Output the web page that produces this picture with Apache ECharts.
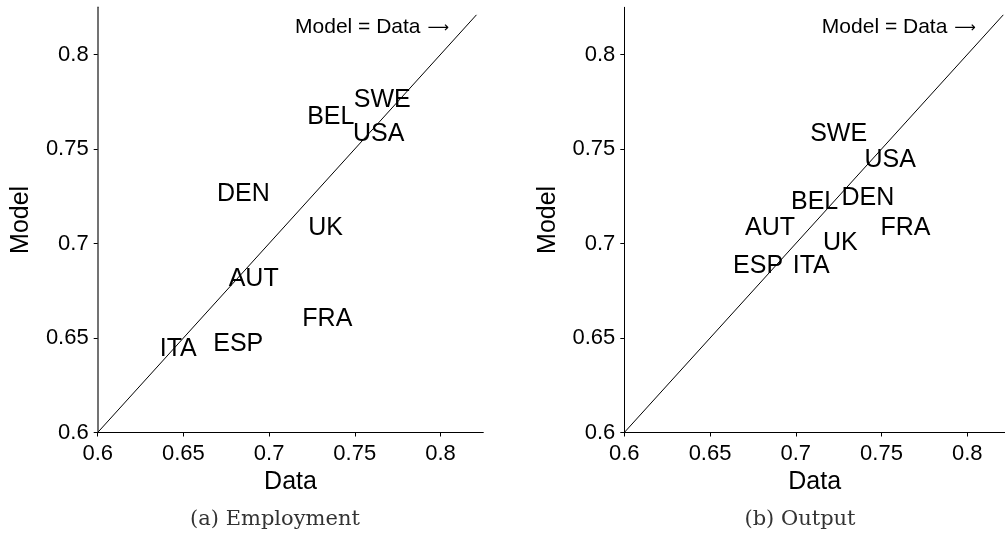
<!DOCTYPE html>
<html>
<head>
<meta charset="utf-8">
<script src="https://cdn.jsdelivr.net/npm/echarts@6/dist/echarts.min.js"></script>
<style>
  html, body { margin: 0; padding: 0; background: #fff; }
  #chart { width: 1005px; height: 535px; }
</style>
</head>
<body>
<div id="chart"></div>
<script>
// Country labels and their (data, model) shares for each panel
const countries = ['SWE', 'BEL', 'USA', 'DEN', 'UK', 'AUT', 'FRA', 'ESP', 'ITA'];
const employmentData  = [0.766, 0.736, 0.764, 0.685, 0.733, 0.691, 0.734, 0.682, 0.647];
const employmentModel = [0.776, 0.767, 0.758, 0.726, 0.708, 0.681, 0.660, 0.647, 0.644];
const outputData  = [0.725, 0.711, 0.755, 0.742, 0.726, 0.685, 0.764, 0.678, 0.709];
const outputModel = [0.758, 0.722, 0.744, 0.724, 0.700, 0.708, 0.708, 0.688, 0.688];

// 45-degree reference line and its note
const diagonal = [[0.6, 0.6], [0.821, 0.821]];
const diagonalNote = 'Model = Data';
const notePos = [0.805, 0.8145];

// Axis ticks
const tickValues = [0.6, 0.65, 0.7, 0.75, 0.8];
const tickLabels = ['0.6', '0.65', '0.7', '0.75', '0.8'];
const captions = ['(a) Employment', '(b) Output'];

const SANS = 'Liberation Sans, Arial, Helvetica, sans-serif';
const AXMIN = 0.6, YMAX = 0.825;

function fmt(v) {
  const i = tickValues.findIndex(t => Math.abs(t - v) < 1e-9);
  return i >= 0 ? tickLabels[i] : '';
}

function xAxis(gridIndex, max) {
  return {
    type: 'value', gridIndex, min: AXMIN, max,
    name: 'Data', nameLocation: 'middle', nameGap: 29,
    nameTextStyle: { fontFamily: SANS, fontSize: 25, color: '#000' },
    axisLine: { show: true, onZero: false, lineStyle: { color: '#000', width: 1 } },
    axisTick: { show: true, length: 4, customValues: tickValues, lineStyle: { color: '#000' } },
    axisLabel: { customValues: tickValues, formatter: fmt, margin: 10,
      fontFamily: SANS, fontSize: 22, color: '#000' },
    splitLine: { show: false }
  };
}

function yAxis(gridIndex, lineColor, lineWidth) {
  return {
    type: 'value', gridIndex, min: AXMIN, max: YMAX,
    name: 'Model', nameLocation: 'middle', nameGap: 64, nameRotate: 90,
    nameTextStyle: { fontFamily: SANS, fontSize: 25, color: '#000' },
    axisLine: { show: true, onZero: false, lineStyle: { color: lineColor, width: lineWidth } },
    axisTick: { show: true, length: 4, customValues: tickValues, lineStyle: { color: '#000' } },
    axisLabel: { customValues: tickValues, formatter: fmt, margin: 9,
      fontFamily: SANS, fontSize: 22, color: '#000' },
    splitLine: { show: false }
  };
}

function labelSeries(idx, xs, ys) {
  return {
    type: 'scatter', xAxisIndex: idx, yAxisIndex: idx,
    symbolSize: 1, itemStyle: { color: 'rgba(0,0,0,0)', opacity: 1 },
    data: countries.map((c, i) => ({ name: c, value: [xs[i], ys[i]] })),
    label: { show: true, position: 'inside', formatter: '{b}',
      fontFamily: SANS, fontSize: 25, color: '#000', textBorderWidth: 0 },
    emphasis: { disabled: true }, silent: true, z: 3
  };
}

function lineSeries(idx) {
  return {
    type: 'line', xAxisIndex: idx, yAxisIndex: idx,
    data: diagonal, showSymbol: false, symbol: 'none',
    lineStyle: { color: '#000', width: 1 }, silent: true, z: 2
  };
}

function noteSeries(idx) {
  return {
    type: 'scatter', xAxisIndex: idx, yAxisIndex: idx,
    symbolSize: 1, itemStyle: { color: 'rgba(0,0,0,0)', opacity: 1 },
    data: [{ name: diagonalNote, value: notePos }],
    label: { show: true, position: 'inside', align: 'right',
      formatter: '{t|{b}}{s|}{a|\u27F6}',
      rich: {
        t: { fontFamily: SANS, fontSize: 21, color: '#000' },
        s: { width: 7 },
        a: { fontFamily: 'DejaVu Sans, sans-serif', fontSize: 15, color: '#000', padding: [2, 0, 0, 0] }
      },
      textBorderWidth: 0 },
    emphasis: { disabled: true }, silent: true, z: 3
  };
}

const chart = echarts.init(document.getElementById('chart'), null, { renderer: 'canvas' });
chart.setOption({
  animation: false,
  backgroundColor: '#fff',
  title: [
    { text: captions[0], left: 270, top: 504, textAlign: 'center',
      textStyle: { fontFamily: 'DejaVu Serif, serif', fontSize: 21, fontWeight: 'normal', color: '#333' } },
    { text: captions[1], left: 795, top: 504, textAlign: 'center',
      textStyle: { fontFamily: 'DejaVu Serif, serif', fontSize: 21, fontWeight: 'normal', color: '#333' } }
  ],
  grid: [
    { left: 97.7, top: 7.3, width: 385.6, height: 425.2, containLabel: false },
    { left: 624.3, top: 7.3, width: 380.7, height: 425.2, containLabel: false }
  ],
  xAxis: [xAxis(0, 0.825), xAxis(1, 0.822)],
  yAxis: [yAxis(0, '#444', 1.5), yAxis(1, '#000', 1)],
  series: [
    lineSeries(0), labelSeries(0, employmentData, employmentModel), noteSeries(0),
    lineSeries(1), labelSeries(1, outputData, outputModel), noteSeries(1)
  ]
});
</script>
</body>
</html>
